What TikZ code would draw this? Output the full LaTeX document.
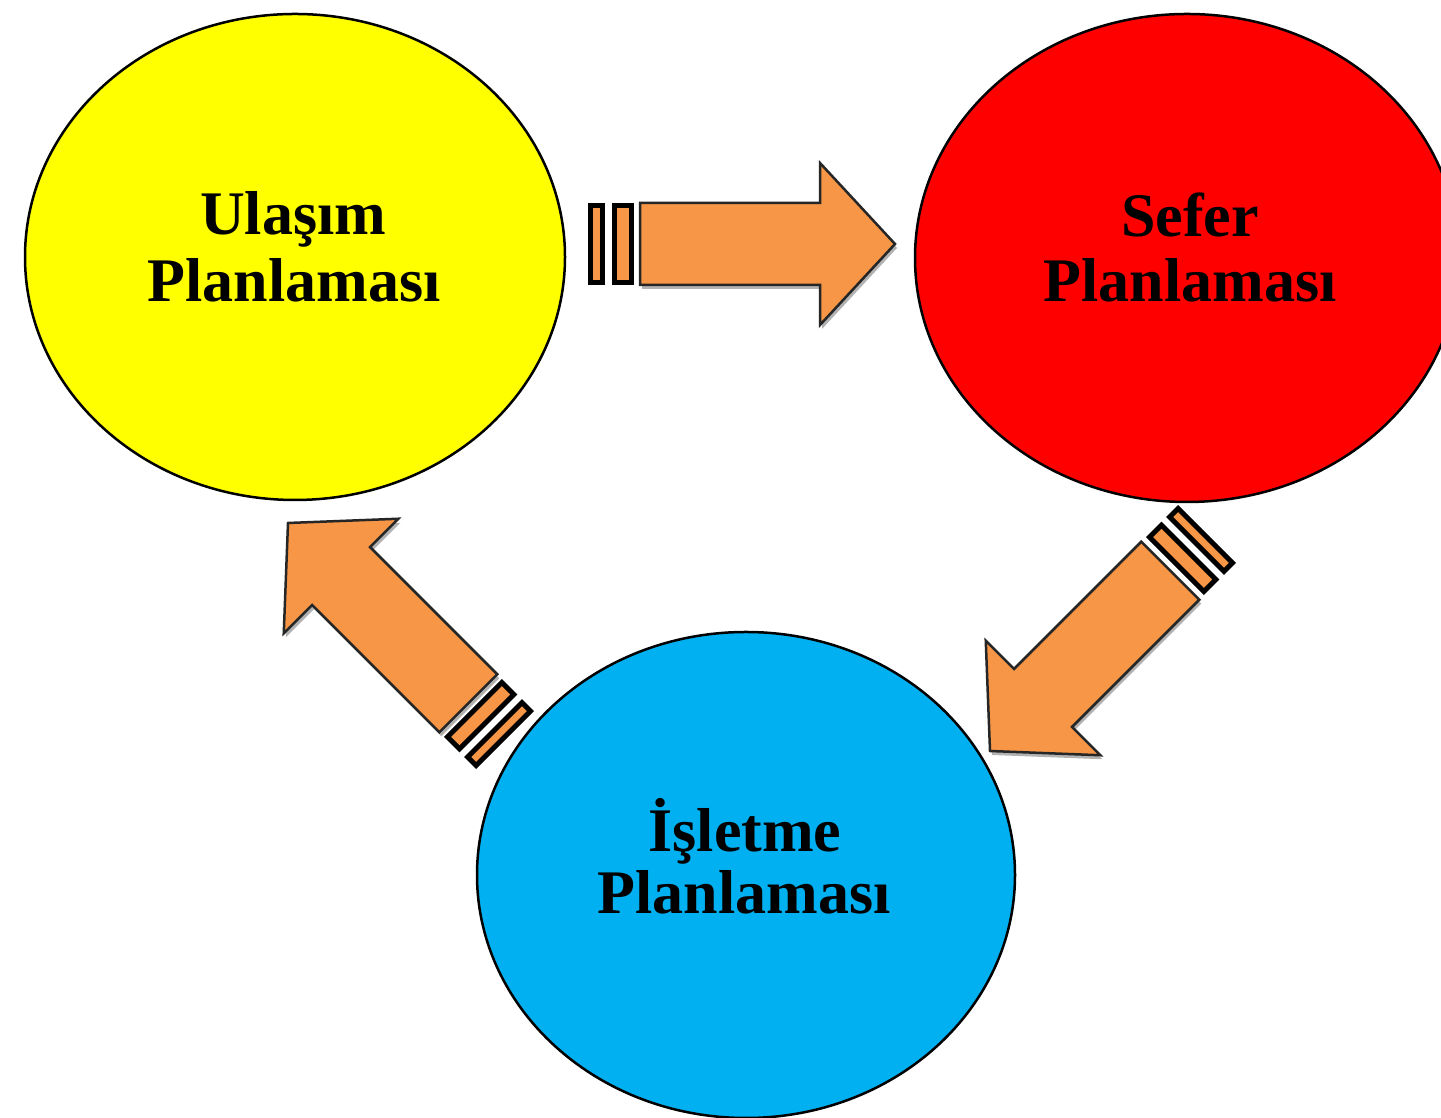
\documentclass[tikz,border=0pt]{standalone}
\usepackage{fontspec}
\setmainfont{Liberation Serif}
\usetikzlibrary{shapes.geometric,calc}
\definecolor{cyel}{HTML}{FFFF00}
\definecolor{cred}{HTML}{FF0000}
\definecolor{cblue}{HTML}{00B0F0}
\definecolor{corange}{HTML}{F79646}
\tikzset{
  ell/.style={ellipse, draw=black, line width=2.5pt, inner sep=0pt, outer sep=0pt},
  lbl/.style={font=\fontsize{62}{62}\selectfont\bfseries, text=black, inner sep=0pt, anchor=base},
  arrowbody/.style={fill=corange, draw=black!85, line width=2.5pt, line join=miter},
  arrowshadow/.style={fill=black!30},
  stripe/.style={fill=corange, draw=black, line width=5pt}
}
\newcommand\stripedarrow[2]{%
  \begin{scope}[shift={($(#1)+(2,-4)$)}, rotate=#2]
    \fill[arrowshadow] (-255,41) -- (-75,41) -- (-75,81) -- (0,0) -- (-75,-81) -- (-75,-41) -- (-255,-41) -- cycle;
  \end{scope}
  \begin{scope}[shift={(#1)}, rotate=#2]
    \draw[arrowbody] (-255,41) -- (-75,41) -- (-75,81) -- (0,0) -- (-75,-81) -- (-75,-41) -- (-255,-41) -- cycle;
    \draw[stripe] (-281,-38.5) rectangle (-264,38.5);
    \draw[stripe] (-304.5,-38.5) rectangle (-292.5,38.5);
  \end{scope}}
\begin{document}
\begin{tikzpicture}[x=1pt,y=1pt]
\useasboundingbox (0,0) rectangle (1441,1118);
\fill[white] (0,0) rectangle (1441,1118);
% ellipses
\node[ell, fill=cyel, minimum width=540pt, minimum height=486pt] (ulasim) at (295,861) {};
\node[ell, fill=cred, minimum width=544pt, minimum height=488pt] (sefer) at (1187,860) {};
\node[ell, fill=cblue, minimum width=538pt, minimum height=486pt] (isletme) at (746,243) {};
% labels
\node[lbl] (ulasimA) at (293,883) {Ulaşım};
\node[lbl] (ulasimB) at (294,816) {Planlaması};
\node[lbl] (seferA) at (1190,881) {Sefer};
\node[lbl] (seferB) at (1190,816) {Planlaması};
\node[lbl] (isletmeA) at (745,266) {İşletme};
\node[lbl] (isletmeB) at (744,204) {Planlaması};
% arrow tips
\coordinate (tipA) at (895,874);
\coordinate (tipB) at (990,367);
\coordinate (tipC) at (288,595);
\stripedarrow{tipA}{0}
\stripedarrow{tipB}{225}
\stripedarrow{tipC}{135}
\end{tikzpicture}
\end{document}
